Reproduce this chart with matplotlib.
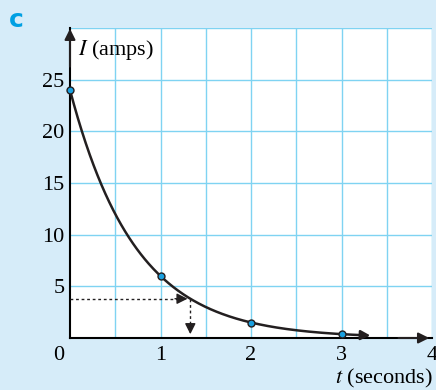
import matplotlib.pyplot as plt
import numpy as np

# data points: I = 24 * 4^(-t)
t_points = [0, 1, 2, 3]
I_points = [24, 6, 1.5, 0.375]
I0 = 24
decay_base = 4
t_end = 3.3
I_read = 3.8
xticks = [0, 1, 2, 3, 4]
yticks = [5, 10, 15, 20, 25]

bg = '#d6ecf9'
gridc = '#7fd3f2'
plt.rcParams['font.family'] = ['Liberation Serif', 'DejaVu Serif']

fig = plt.figure(figsize=(4.36, 3.9), dpi=100)
fig.patch.set_facecolor(bg)
ax = fig.add_axes([70/436, 52/390, 362/436, 310/390])
ax.set_facecolor('white')
ax.set_xlim(0, 4)
ax.set_ylim(0, 30)

# grid
for gx in np.arange(0.5, 4.01, 0.5):
    ax.axvline(gx, color=gridc, lw=1, zorder=1)
for gy in [5, 10, 15, 20, 25, 30]:
    ax.axhline(gy, color=gridc, lw=1, zorder=1)

for s in ['top', 'right']:
    ax.spines[s].set_visible(False)
for s in ['left', 'bottom']:
    ax.spines[s].set_linewidth(1.5)
ax.tick_params(length=0, labelsize=16)
ax.set_xticks(xticks)
# the "0" sits a bit left of the origin, drawn separately
ax.set_xticklabels([''] + [str(v) for v in xticks[1:]])
ax.set_yticks(yticks)
ax.set_yticklabels([str(v) for v in yticks])
ax.xaxis.set_tick_params(pad=6)
ax.yaxis.set_tick_params(pad=4)
ax.annotate(str(xticks[0]), xy=(xticks[0], 0), xytext=(-8.5, -6),
            textcoords='offset points', ha='center', va='top', fontsize=16)

# axis arrows
ax.annotate('', xy=(0, 30.2), xytext=(0, 26), annotation_clip=False,
            arrowprops=dict(arrowstyle='-|>', color='#231f20', lw=1.5, mutation_scale=16))
ax.annotate('', xy=(4.0, 0), xytext=(3.6, 0), annotation_clip=False,
            arrowprops=dict(arrowstyle='-|>', color='#231f20', lw=1.5, mutation_scale=16))

# curve
tt = np.linspace(0, t_end - 0.05, 300)
ax.plot(tt, I0 * decay_base ** (-tt), color='#231f20', lw=1.8, zorder=3, clip_on=False)
ax.annotate('', xy=(t_end + 0.05, I0 * decay_base ** (-t_end - 0.05)),
            xytext=(t_end - 0.1, I0 * decay_base ** (-(t_end - 0.1))),
            arrowprops=dict(arrowstyle='-|>', color='#231f20', lw=1.8, mutation_scale=14))

ax.plot(t_points, I_points, 'o', ms=5, mfc='#1aa0e0', mec='#231f20', mew=1,
        zorder=5, clip_on=False)

# reading dashed lines
t_read = -np.log(I_read / I0) / np.log(decay_base)
ax.plot([0, t_read - 0.1], [I_read, I_read], ls=(0, (2, 2)), color='#231f20', lw=1, zorder=3)
ax.annotate('', xy=(t_read, I_read), xytext=(t_read - 0.2, I_read),
            arrowprops=dict(arrowstyle='-|>', color='#231f20', lw=1, mutation_scale=16))
ax.plot([t_read, t_read], [I_read, 1.2], ls=(0, (2, 2)), color='#231f20', lw=1, zorder=3)
ax.annotate('', xy=(t_read, 0.1), xytext=(t_read, 1.5),
            arrowprops=dict(arrowstyle='-|>', color='#231f20', lw=1, mutation_scale=16))

ax.text(0.09, 27.9, r'$I$ (amps)', fontsize=16, va='center', ha='left',
        math_fontfamily='stix')
fig.text(335/436, 0.03, r'$t$ (seconds)', fontsize=16, ha='left', va='center',
         math_fontfamily='stix')
fig.text(0.02, 0.948, 'c', fontsize=18, color='#00a0e3', fontweight='bold',
         family='DejaVu Sans', va='center')

plt.savefig('out.png', dpi=100, facecolor=bg)
